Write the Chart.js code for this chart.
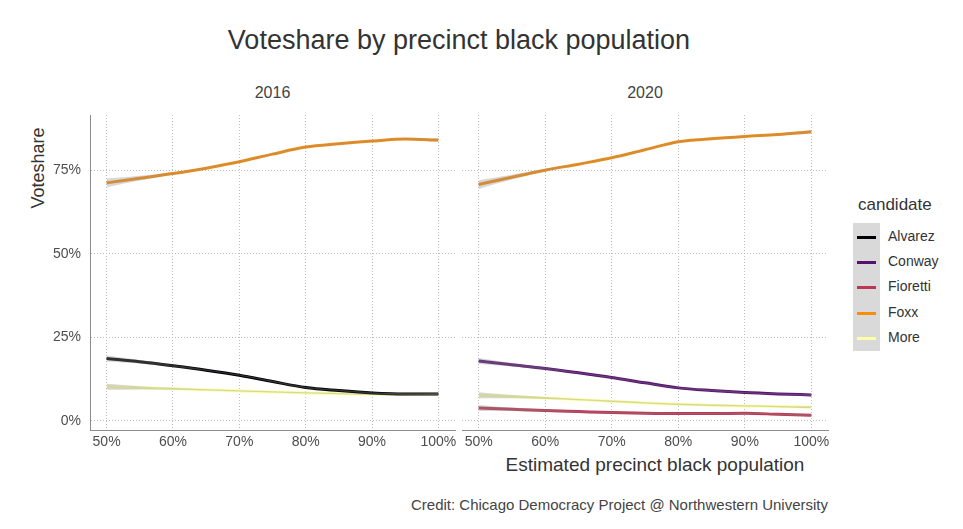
<!DOCTYPE html>
<html><head><meta charset="utf-8">
<script src="https://cdn.jsdelivr.net/npm/chart.js@4/dist/chart.umd.min.js"></script>
<style>
html,body{margin:0;padding:0;background:#fff;width:963px;height:529px;overflow:hidden;font-family:"Liberation Sans",Arial,sans-serif;}
.t{position:absolute;white-space:nowrap;color:#333;}
canvas{position:absolute;}
</style></head><body>
<div class="t" id="title" style="left:0;width:918px;top:25px;text-align:center;font-size:27px;color:#333;">Voteshare by precinct black population</div>
<div class="t" style="left:90px;width:365px;top:84px;text-align:center;font-size:16px;color:#444;">2016</div>
<div class="t" style="left:462px;width:366px;top:84px;text-align:center;font-size:16px;color:#444;">2020</div>
<div class="t" style="left:38px;top:168px;font-size:18px;color:#333;transform:translate(-50%,-50%) rotate(-90deg);">Voteshare</div>
<div class="t" style="left:462px;width:386px;top:454px;text-align:center;font-size:19px;color:#333;">Estimated precinct black population</div>
<div class="t" style="right:135px;top:496px;font-size:15px;color:#444;">Credit: Chicago Democracy Project @ Northwestern University</div>
<div id="legend" style="position:absolute;left:853px;top:195px;"></div>
<canvas id="c1" width="430" height="360" style="left:40px;top:105px;"></canvas>
<canvas id="c2" width="390" height="360" style="left:455px;top:105px;"></canvas>
<script>
// ---- data ----
const xPoints = [50,55,60,65,70,75,80,85,90,95,100];
const xTicks = [50,60,70,80,90,100];
const yTicks = [0,25,50,75];
const candidates = ["Alvarez","Conway","Fioretti","Foxx","More"];
const colors = {Alvarez:"#000004",Conway:"#56106E",Fioretti:"#BB3754",Foxx:"#F98C0A",More:"#FCFFA4"};

const foxx2016    = [71.2,72.6,74.0,75.6,77.5,79.8,81.9,82.9,83.7,84.3,84.0];
const alvarez2016 = [18.7,17.7,16.5,15.2,13.7,11.8,10.0,9.1,8.4,8.1,8.1];
const more2016    = [10.2,9.9,9.6,9.3,9.0,8.7,8.4,8.2,8.0,8.0,8.0];

const foxx2020     = [70.7,72.9,75.0,76.8,78.7,81.1,83.5,84.4,85.1,85.7,86.5];
const conway2020   = [17.9,16.8,15.7,14.4,13.0,11.4,9.9,9.1,8.5,8.1,7.8];
const more2020     = [7.7,7.3,6.9,6.4,5.9,5.4,5.0,4.7,4.5,4.3,4.1];
const fioretti2020 = [3.9,3.5,3.1,2.8,2.5,2.3,2.2,2.2,2.3,2.0,1.7];

// confidence band half-widths
const bandBig   = [1.3,0.7,0.4,0.3,0.3,0.3,0.3,0.3,0.3,0.3,0.5];
const bandSmall = [0.9,0.5,0.3,0.2,0.2,0.2,0.2,0.2,0.2,0.2,0.3];

const panel2016 = [["Foxx",foxx2016,bandBig],["Alvarez",alvarez2016,bandSmall],["More",more2016,bandSmall]];
const panel2020 = [["Foxx",foxx2020,bandBig],["Conway",conway2020,bandSmall],["More",more2020,bandSmall],["Fioretti",fioretti2020,bandSmall]];

// ---- build ----
function pts(vals){return xPoints.map((x,i)=>({x:x,y:vals[i]}));}
function datasets(panel){
  const ds=[];
  panel.forEach(([name,vals,band])=>{
    ds.push({data:pts(vals.map((v,i)=>v-band[i])),borderWidth:0,pointRadius:0,fill:false,cubicInterpolationMode:'monotone'});
    ds.push({data:pts(vals.map((v,i)=>v+band[i])),borderWidth:0,pointRadius:0,fill:'-1',backgroundColor:'rgba(140,140,140,0.35)',cubicInterpolationMode:'monotone'});
  });
  panel.forEach(([name,vals])=>{
    ds.push({label:name,data:pts(vals),borderColor:colors[name],borderWidth:3,pointRadius:0,fill:false,cubicInterpolationMode:'monotone'});
  });
  return ds;
}
const font={family:"'Liberation Sans', Arial, sans-serif",size:14};
function zeroPad(s){s.paddingTop=0;s.paddingBottom=0;s.paddingLeft=0;s.paddingRight=0;}
function opts(left){
  return {
    responsive:false,animation:false,devicePixelRatio:1,
    layout:{padding:left?{left:0,right:15,top:10,bottom:0}:{left:7,right:17,top:10,bottom:0}},
    plugins:{legend:{display:false},tooltip:{enabled:false}},
    scales:{
      x:{type:'linear',min:47.5,max:102.5,
        afterBuildTicks:s=>{s.ticks=xTicks.map(v=>({value:v}));},
        afterFit:s=>{s.height=35;zeroPad(s);},
        ticks:{callback:v=>v+'%',font:font,color:'#4D4D4D',padding:4,maxRotation:0,autoSkip:false},
        grid:{color:'#BDBDBD',lineWidth:1,drawTicks:false},
        border:{display:true,color:'#8C8C8C',width:1,dash:[1,2]}},
      y:{type:'linear',min:-2.7,max:91.5,
        afterBuildTicks:s=>{s.ticks=yTicks.map(v=>({value:v}));},
        afterFit:s=>{s.width=left?50:0;zeroPad(s);},
        ticks:{display:left,callback:v=>v+'%',font:font,color:'#4D4D4D',padding:9},
        grid:{color:'#BDBDBD',lineWidth:1,drawTicks:false},
        border:{display:left,color:'#8C8C8C',width:1,dash:[1,2]}}
    }
  };
}
new Chart(document.getElementById('c1'),{type:'line',data:{datasets:datasets(panel2016)},options:opts(true)});
new Chart(document.getElementById('c2'),{type:'line',data:{datasets:datasets(panel2020)},options:opts(false)});

// legend
const lg=document.getElementById('legend');
let h='<div style="font-size:17px;color:#333;margin-left:5px;height:28px;">candidate</div>';
h+='<div style="position:relative;">';
h+='<div style="position:absolute;left:0;top:0;width:27px;height:128px;background:#D9D9D9;"></div>';
candidates.forEach((c,i)=>{
  h+='<div style="position:absolute;left:4px;top:'+(13+i*25.2)+'px;width:19px;height:3px;background:'+colors[c]+';"></div>';
  h+='<div class="t" style="left:35px;top:'+(5+i*25.2)+'px;font-size:14px;color:#333;">'+c+'</div>';
});
h+='</div>';
lg.innerHTML=h;
</script>
</body></html>
